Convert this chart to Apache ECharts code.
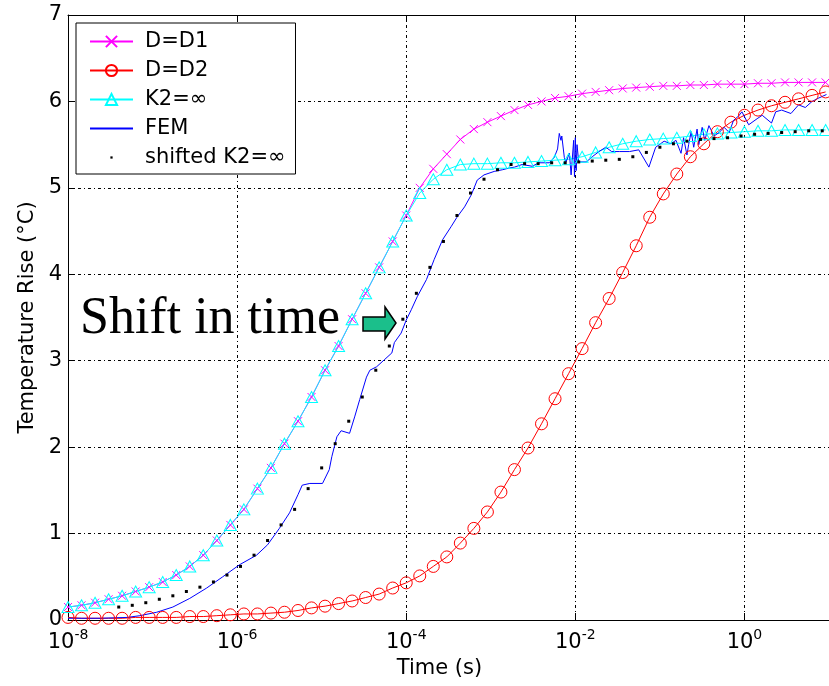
<!DOCTYPE html>
<html><head><meta charset="utf-8">
<script src="https://cdn.jsdelivr.net/npm/echarts@6/dist/echarts.min.js"></script>
<style>html,body{margin:0;padding:0;background:#fff}#c{width:829px;height:686px}</style>
</head><body><div id="c"></div>
<script>
// log10(time) of the marker samples
const markerLogT = [-8.00,-7.84,-7.68,-7.52,-7.36,-7.20,-7.04,-6.88,-6.72,-6.56,-6.40,-6.24,-6.08,-5.92,-5.76,-5.60,-5.44,-5.28,-5.12,-4.96,-4.80,-4.64,-4.48,-4.32,-4.16,-4.00,-3.84,-3.68,-3.52,-3.36,-3.20,-3.04,-2.88,-2.72,-2.56,-2.40,-2.24,-2.08,-1.92,-1.76,-1.60,-1.44,-1.28,-1.12,-0.96,-0.80,-0.64,-0.48,-0.32,-0.16,0.00,0.16,0.32,0.48,0.64,0.80,0.96];
const d1Values = [0.15,0.17,0.20,0.24,0.28,0.33,0.38,0.44,0.52,0.62,0.75,0.92,1.10,1.28,1.52,1.76,2.04,2.30,2.58,2.89,3.17,3.48,3.78,4.08,4.38,4.68,5.00,5.22,5.39,5.56,5.68,5.76,5.83,5.90,5.96,6.00,6.04,6.06,6.09,6.11,6.13,6.15,6.16,6.17,6.18,6.18,6.19,6.19,6.20,6.20,6.20,6.21,6.21,6.22,6.22,6.22,6.22];
const d2Values = [0.03,0.02,0.02,0.02,0.02,0.03,0.03,0.03,0.03,0.04,0.04,0.05,0.06,0.07,0.07,0.08,0.09,0.11,0.14,0.16,0.19,0.22,0.26,0.30,0.37,0.43,0.51,0.62,0.73,0.89,1.06,1.25,1.48,1.74,1.99,2.27,2.56,2.85,3.14,3.44,3.72,4.02,4.33,4.66,4.93,5.16,5.36,5.51,5.65,5.76,5.84,5.90,5.95,5.99,6.03,6.07,6.11];
const k2Values = [0.15,0.17,0.20,0.24,0.28,0.33,0.38,0.44,0.52,0.62,0.75,0.92,1.10,1.28,1.52,1.76,2.04,2.30,2.58,2.89,3.17,3.48,3.78,4.08,4.38,4.68,4.94,5.10,5.21,5.27,5.28,5.28,5.29,5.29,5.30,5.31,5.32,5.33,5.36,5.41,5.47,5.51,5.54,5.56,5.57,5.58,5.60,5.62,5.63,5.64,5.65,5.66,5.66,5.67,5.67,5.67,5.67];
// shifted K2=inf curve: same values, shifted in time by this many decades
const shiftDecades = 0.6;
// FEM curve
const femLogT = [-8.00,-7.62,-7.30,-7.15,-6.95,-6.76,-6.56,-6.36,-6.17,-5.97,-5.77,-5.64,-5.50,-5.38,-5.28,-5.23,-5.14,-4.99,-4.91,-4.88,-4.82,-4.77,-4.67,-4.61,-4.55,-4.47,-4.43,-4.35,-4.26,-4.17,-4.14,-4.06,-4.00,-3.94,-3.87,-3.76,-3.67,-3.57,-3.47,-3.40,-3.31,-3.23,-3.16,-3.08,-2.96,-2.86,-2.78,-2.72,-2.63,-2.51,-2.43,-2.31,-2.25,-2.21,-2.19,-2.17,-2.16,-2.13,-2.11,-2.07,-2.05,-2.02,-2.01,-2.00,-1.99,-1.98,-1.96,-1.87,-1.80,-1.72,-1.64,-1.57,-1.48,-1.36,-1.25,-1.13,-1.05,-0.95,-0.87,-0.81,-0.77,-0.75,-0.72,-0.68,-0.66,-0.63,-0.60,-0.56,-0.54,-0.50,-0.47,-0.42,-0.36,-0.30,-0.24,-0.18,-0.13,-0.07,-0.03,0.05,0.15,0.21,0.32,0.37,0.44,0.55,0.64,0.72,0.80,0.88,0.97];
const femValues = [0.02,0.02,0.03,0.05,0.09,0.15,0.25,0.37,0.50,0.64,0.75,0.87,1.06,1.24,1.45,1.56,1.58,1.58,1.74,1.89,2.12,2.19,2.16,2.35,2.55,2.81,2.89,2.93,3.01,3.09,3.21,3.32,3.47,3.59,3.74,3.94,4.17,4.40,4.55,4.66,4.78,4.92,5.09,5.15,5.19,5.21,5.23,5.24,5.27,5.25,5.29,5.29,5.35,5.45,5.63,5.55,5.60,5.35,5.30,5.40,5.15,5.55,5.13,5.58,5.20,5.50,5.30,5.30,5.36,5.42,5.47,5.42,5.42,5.42,5.44,5.24,5.47,5.54,5.51,5.55,5.45,5.40,5.58,5.38,5.50,5.65,5.47,5.68,5.50,5.70,5.55,5.72,5.60,5.64,5.70,5.64,5.78,5.83,5.88,5.73,5.80,5.84,5.75,5.88,5.90,5.86,5.96,5.93,6.00,6.04,6.08];
const seriesNames = ['D=D1','D=D2','K2=\u221e','FEM','shifted K2=\u221e'];
const xMin = 1e-8, xMax = 10;
const yMin = 0, yMax = 7, yStep = 1;

const toPts = (logs, vals, off) => logs.map((e, i) => [Math.pow(10, e + (off || 0)), vals[i]]);
const FONT = 'DejaVu Sans';
const gridLine = {show: true, lineStyle: {color: '#000', width: 1, type: [3, 3, 1, 3]}};

const chart = echarts.init(document.getElementById('c'), null, {renderer: 'canvas'});
chart.setOption({
  animation: false,
  backgroundColor: '#fff',
  grid: {left: 68, top: 15, right: -2, bottom: 66, containLabel: false},
  legend: {
    orient: 'vertical', left: 76, top: 23,
    backgroundColor: '#fff', borderColor: '#000', borderWidth: 1, borderRadius: 0,
    padding: [8, 10, 6, 13],
    itemWidth: 43, itemHeight: 14, itemGap: 8,
    selectedMode: false,
    textStyle: {fontFamily: FONT, fontSize: 21, color: '#000', lineHeight: 21, padding: [0, 0, 0, 7]},
    data: seriesNames
  },
  xAxis: [{
    type: 'log', logBase: 100, min: xMin, max: xMax,
    axisLine: {show: true, lineStyle: {color: '#000', width: 1}},
    axisTick: {show: true, inside: true, length: 7, lineStyle: {color: '#000'}},
    splitLine: gridLine,
    axisLabel: {
      show: true, margin: 8, showMaxLabel: false, color: '#000',
      formatter: v => '{b|10}{s|' + Math.round(Math.log10(v)) + '}',
      rich: {
        b: {fontFamily: FONT, fontSize: 21, lineHeight: 30, color: '#000'},
        s: {fontFamily: FONT, fontSize: 14, lineHeight: 10, verticalAlign: 'top', color: '#000'}
      }
    },
    name: 'Time (s)', nameLocation: 'middle', nameGap: 38,
    nameTextStyle: {fontFamily: FONT, fontSize: 21, color: '#000', padding: [0, 18, 0, 0]}
  }, {
    type: 'log', logBase: 100, min: xMin, max: xMax, position: 'top',
    axisLine: {show: true, lineStyle: {color: '#000', width: 1}},
    axisTick: {show: true, inside: true, length: 7, lineStyle: {color: '#000'}},
    axisLabel: {show: false}, splitLine: {show: false}
  }],
  yAxis: {
    type: 'value', min: yMin, max: yMax, interval: yStep,
    axisLine: {show: true, lineStyle: {color: '#000', width: 1}},
    axisTick: {show: true, inside: true, length: 7, lineStyle: {color: '#000'}},
    splitLine: gridLine,
    axisLabel: {fontFamily: FONT, fontSize: 21, color: '#000', margin: 6},
    name: 'Temperature Rise (\u00b0C)', nameLocation: 'middle', nameGap: 30,
    nameTextStyle: {fontFamily: FONT, fontSize: 21, color: '#000'}
  },
  series: [
    {
      name: seriesNames[0], type: 'line', data: toPts(markerLogT, d1Values),
      symbol: 'path://M0,0L10,10M10,0L0,10', symbolSize: 8,
      itemStyle: {color: 'rgba(0,0,0,0)', borderColor: '#ff00ff', borderWidth: 1},
      lineStyle: {color: '#ff00ff', width: 1}
    },
    {
      name: seriesNames[1], type: 'line', data: toPts(markerLogT, d2Values),
      symbol: 'circle', symbolSize: 12,
      itemStyle: {color: 'rgba(0,0,0,0)', borderColor: '#ff0000', borderWidth: 1},
      lineStyle: {color: '#ff0000', width: 1}
    },
    {
      name: seriesNames[2], type: 'line', data: toPts(markerLogT, k2Values),
      symbol: 'triangle', symbolSize: [12, 11],
      itemStyle: {color: 'rgba(0,0,0,0)', borderColor: '#00ffff', borderWidth: 1},
      lineStyle: {color: '#00ffff', width: 1}
    },
    {
      name: seriesNames[3], type: 'line', data: toPts(femLogT, femValues),
      showSymbol: false, symbol: 'circle',
      itemStyle: {color: 'rgba(0,0,0,0)'},
      lineStyle: {color: '#0000ff', width: 1}
    },
    {
      name: seriesNames[4], type: 'line', data: toPts(markerLogT, k2Values, shiftDecades),
      symbol: 'path://M0,0M10,10M4,4h2v2h-2z', symbolSize: 15,
      itemStyle: {color: '#000'},
      lineStyle: {width: 0, opacity: 0}
    }
  ],
  graphic: [
    {type: 'text', z: 100, style: {text: 'Shift in time', x: 80, y: 319, verticalAlign: 'middle', font: '52px "Liberation Serif"', fill: '#000'}},
    {type: 'polygon', z: 100, shape: {points: [[363, 317], [385, 317], [385, 307], [396, 323], [385, 339], [385, 331], [363, 331]]},
     style: {fill: '#1bbf8b', stroke: '#000', lineWidth: 1.5}}
  ]
});
</script>
</body></html>
